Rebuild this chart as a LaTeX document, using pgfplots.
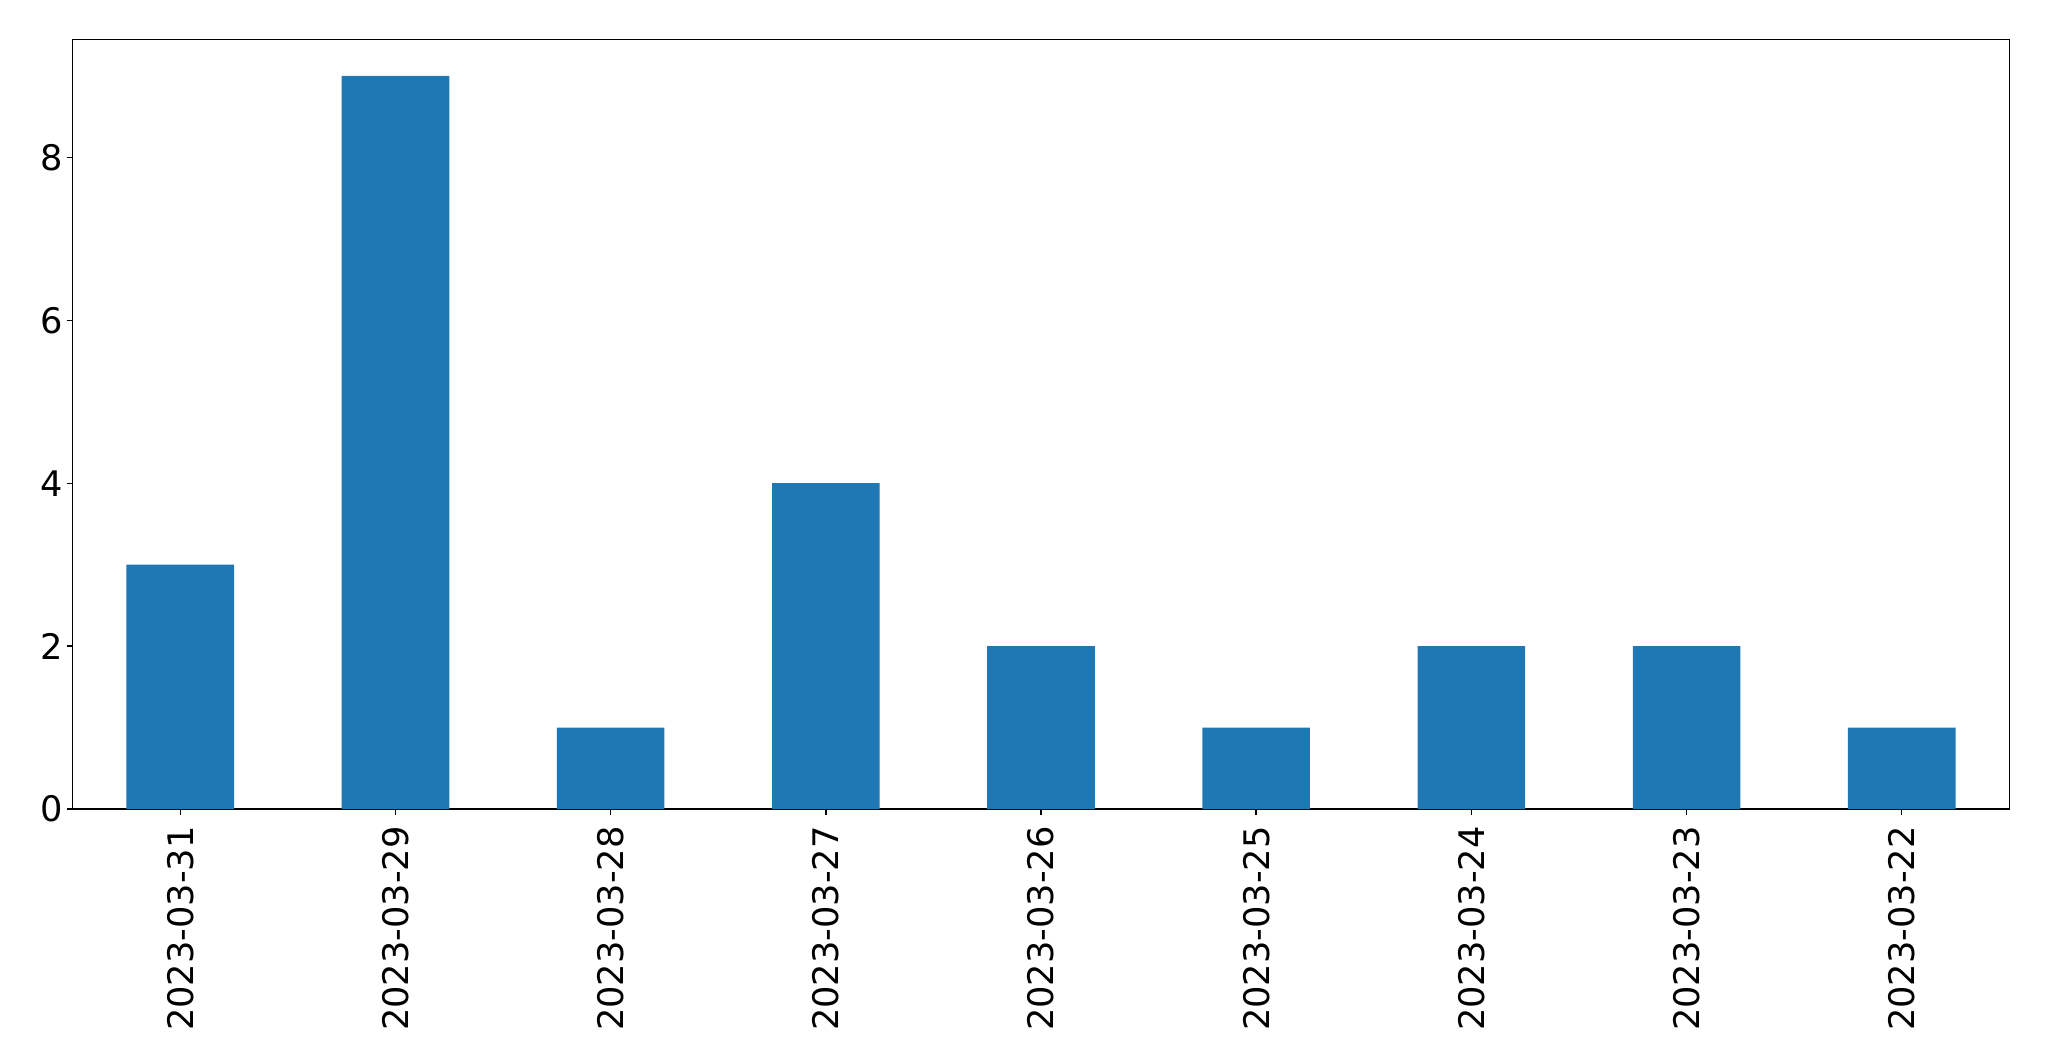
\documentclass[border=0pt]{standalone}
\usepackage{fontspec}
\setmainfont{DejaVu Sans}
\usepackage{pgfplots}
\pgfplotsset{compat=1.18}
\definecolor{mplblue}{HTML}{1F77B4}
\begin{document}
\begin{tikzpicture}
\begin{axis}[
  scale only axis,
  width=968.3pt, height=384.85pt,
  xmin=-0.5, xmax=8.5, ymin=0, ymax=9.45,
  xtick={0,1,2,3,4,5,6,7,8},
  xticklabels={2023-03-31,2023-03-29,2023-03-28,2023-03-27,2023-03-26,2023-03-25,2023-03-24,2023-03-23,2023-03-22},
  ytick={0,2,4,6,8},
  yticklabels={0,2,4,6,8},
  tick align=outside,
  major tick length=3pt,
  axis line style={line width=0.69pt},
  every tick/.style={black, line width=0.69pt},
  xtick pos=bottom, ytick pos=left,
  tick label style={font=\fontsize{17.6}{20}\selectfont, inner sep=0pt},
  xticklabel style={rotate=90, anchor=east},
  xticklabel shift=5.5pt, yticklabel shift=1.8pt,
  /pgf/number format/assume math mode=true,
]
\addplot[ybar, bar width=0.5, fill=mplblue, draw=none] coordinates {(0,3) (1,9) (2,1) (3,4) (4,2) (5,1) (6,2) (7,2) (8,1)};
\end{axis}
\path (current axis.south west) ++(-36.35pt,-126pt) rectangle ++(1024.5pt,530.5pt);
\end{tikzpicture}
\end{document}
